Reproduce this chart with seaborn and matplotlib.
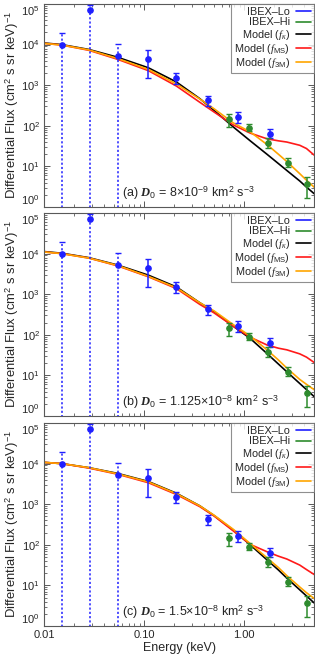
import numpy as np
import seaborn as sns
import matplotlib.pyplot as plt
from matplotlib.lines import Line2D
from matplotlib.ticker import LogLocator, FixedLocator, FixedFormatter, NullFormatter

sns.set_style('ticks')
plt.rcParams['font.family'] = ['Liberation Sans', 'DejaVu Sans']
plt.rcParams['mathtext.fontset'] = 'custom'
plt.rcParams['mathtext.rm'] = 'Liberation Sans'
plt.rcParams['mathtext.it'] = 'Liberation Serif:italic'
plt.rcParams['mathtext.bf'] = 'Liberation Serif:bold:italic'

# IBEX-Lo / IBEX-Hi spectra (same in every panel)
lo_E = [0.015, 0.029, 0.055, 0.11, 0.209, 0.439, 0.872, 1.821]
lo_flux = [9.8e3, 7.0e4, 5.2e3, 4.5e3, 1.5e3, 425, 167, 64]
lo_upper = [1.9e4, 9.5e4, 1.05e4, 7.4e3, 1.95e3, 550, 223, 82]
lo_lower = [0, 0, 0, 1.5e3, 1.05e3, 315, 120, 51]
hi_E = [0.71, 1.11, 1.74, 2.73, 4.29]
hi_flux = [145, 90, 38, 12.3, 3.6]
hi_upper = [198, 112, 51, 15.8, 5.5]
hi_lower = [93, 74, 29, 9.7, 1.7]

# model curves, log10 of flux
model_E = [0.01, 0.015, 0.028, 0.054, 0.11, 0.21, 0.36, 0.5, 0.78, 1.15, 1.69, 2.2, 2.67, 3.6, 4.2, 5.0]
kappa_a = [4.04, 4.00, 3.88, 3.69, 3.43, 3.08, 2.67, 2.38, 1.97, 1.63, 1.30, 1.07, 0.90, 0.64, 0.49, 0.33]
ms_a = [4.03, 3.99, 3.86, 3.64, 3.36, 2.98, 2.58, 2.34, 2.02, 1.82, 1.68, 1.63, 1.60, 1.52, 1.44, 1.28]
m3_a = [4.03, 3.99, 3.87, 3.66, 3.39, 3.03, 2.66, 2.42, 2.07, 1.85, 1.54, 1.30, 1.12, 0.82, 0.66, 0.49]
kappa_b = [4.05, 4.01, 3.90, 3.72, 3.47, 3.18, 2.79, 2.57, 2.21, 1.91, 1.54, 1.28, 1.09, 0.80, 0.65, 0.48]
ms_b = [4.04, 4.00, 3.89, 3.70, 3.43, 3.14, 2.75, 2.54, 2.21, 1.94, 1.75, 1.67, 1.63, 1.53, 1.45, 1.32]
m3_b = [4.04, 4.00, 3.89, 3.71, 3.44, 3.16, 2.79, 2.59, 2.25, 1.97, 1.63, 1.38, 1.18, 0.90, 0.78, 0.65]
kappa_c = [4.03, 4.00, 3.90, 3.76, 3.56, 3.27, 2.96, 2.72, 2.36, 2.00, 1.63, 1.38, 1.18, 0.89, 0.74, 0.57]
ms_c = [4.03, 4.00, 3.89, 3.74, 3.53, 3.24, 2.94, 2.71, 2.34, 2.01, 1.83, 1.72, 1.65, 1.50, 1.39, 1.27]
m3_c = [4.03, 4.00, 3.90, 3.75, 3.55, 3.26, 2.96, 2.73, 2.38, 2.03, 1.68, 1.44, 1.24, 0.96, 0.82, 0.68]

panel_text = [r'(a) $\mathbf{D}_0$ = 8×10$^{-9}$ km$^2$ s$^{-3}$',
              r'(b) $\mathbf{D}_0$ = 1.125×10$^{-8}$ km$^2$ s$^{-3}$',
              r'(c) $\mathbf{D}_0$ = 1.5×10$^{-8}$ km$^2$ s$^{-3}$']
models = [(kappa_a, ms_a, m3_a), (kappa_b, ms_b, m3_b), (kappa_c, ms_c, m3_c)]
y_ticks = [1, 10, 100, 1e3, 1e4, 1e5]

blue, green, red, orange = '#1f1fff', '#2e8b2e', '#ff1a1a', '#ffa500'
labels = ['IBEX\u2013Lo', 'IBEX\u2013Hi', r'Model ($f_{\kappa}$)', r'Model ($f_{\rm MS}$)', r'Model ($f_{\rm 3M}$)']
colors = [blue, green, 'black', red, orange]

fig = plt.figure(figsize=(3.15, 6.6), dpi=100)
# axes boxes in pixels from the top: (top, bottom)
boxes = [(4, 207), (213, 416), (423, 626)]
lo_E = np.array(lo_E); lo_flux = np.array(lo_flux)
hi_flux = np.array(hi_flux)
err = [lo_flux - np.array(lo_lower), np.array(lo_upper) - lo_flux]
for i in range(3):
    top, bot = boxes[i]
    ax = fig.add_axes([0.14, 1 - bot / 660, 0.857, (bot - top) / 660])
    ax.set_xscale('log'); ax.set_yscale('log')
    k, ms, m3 = models[i]
    sns.lineplot(x=model_E, y=10 ** np.array(k), color='black', lw=1.2, ax=ax, legend=False, sort=False)
    sns.lineplot(x=model_E, y=10 ** np.array(ms), color=red, lw=1.2, ax=ax, legend=False, sort=False)
    sns.lineplot(x=model_E, y=10 ** np.array(m3), color=orange, lw=1.2, ax=ax, legend=False, sort=False)

    # first three Lo points: lower bound not constrained, dotted bars
    eb = ax.errorbar(lo_E[:3], lo_flux[:3], yerr=[err[0][:3], err[1][:3]], fmt='o', color=blue,
                     ms=3.8, capsize=2.3, elinewidth=1.1, capthick=1, zorder=4)
    eb[2][0].set_linestyle((0, (1.4, 1.4)))
    ax.errorbar(lo_E[3:], lo_flux[3:], yerr=[err[0][3:], err[1][3:]], fmt='o', color=blue,
                ms=3.8, capsize=2.3, elinewidth=1.1, capthick=1, zorder=4)
    ax.errorbar(hi_E, hi_flux, yerr=[hi_flux - np.array(hi_lower), np.array(hi_upper) - hi_flux],
                fmt='o', color=green, ms=3.8, capsize=2.3, elinewidth=1.1, capthick=1, zorder=4)

    ax.set_xlim(0.01, 5.0)
    ax.set_ylim(1, 1e5)
    ax.yaxis.set_major_locator(FixedLocator(y_ticks))
    ax.yaxis.set_minor_locator(LogLocator(base=10, subs=np.arange(2, 10), numticks=20))
    ax.yaxis.set_minor_formatter(NullFormatter())
    ax.xaxis.set_major_locator(FixedLocator([0.01, 0.1, 1.0]))
    ax.xaxis.set_minor_locator(LogLocator(base=10, subs=np.arange(2, 10), numticks=20))
    ax.xaxis.set_minor_formatter(NullFormatter())
    if i == 2:
        ax.xaxis.set_major_formatter(FixedFormatter(['0.01', '0.10', '1.00']))
        ax.set_xlabel('Energy (keV)', fontsize=9, labelpad=1)
    else:
        ax.xaxis.set_major_formatter(NullFormatter())
    ax.tick_params(which='both', direction='in', top=True, right=True, color='0.35', labelsize=8, pad=3)
    ax.tick_params(which='major', length=4, width=0.7)
    ax.tick_params(which='minor', length=2, width=0.6)
    # end labels sit inside the box, as in the original
    yt = ax.yaxis.get_major_ticks()
    yt[0].label1.set_va('bottom')
    yt[-1].label1.set_va('top')
    for s in ax.spines.values():
        s.set_color('0.35'); s.set_linewidth(0.8)
    ax.set_ylabel(r'Differential Flux (cm$^2$ s sr keV)$^{-1}$', fontsize=9.4, labelpad=0)
    ax.text(0.29, 0.07, panel_text[i], transform=ax.transAxes, fontsize=9, ha='left', va='center')
    handles = [Line2D([], [], color=c, lw=1.2) for c in colors]
    leg = ax.legend(handles, labels, loc='upper right', fontsize=7.8, markerfirst=False, frameon=True,
                    fancybox=False, borderaxespad=0, handlelength=1.4, handletextpad=0.5,
                    labelspacing=0.02, borderpad=0.3)
    leg.get_frame().set_edgecolor('0.45'); leg.get_frame().set_linewidth(0.8)

fig.savefig('out.png', dpi=100)
